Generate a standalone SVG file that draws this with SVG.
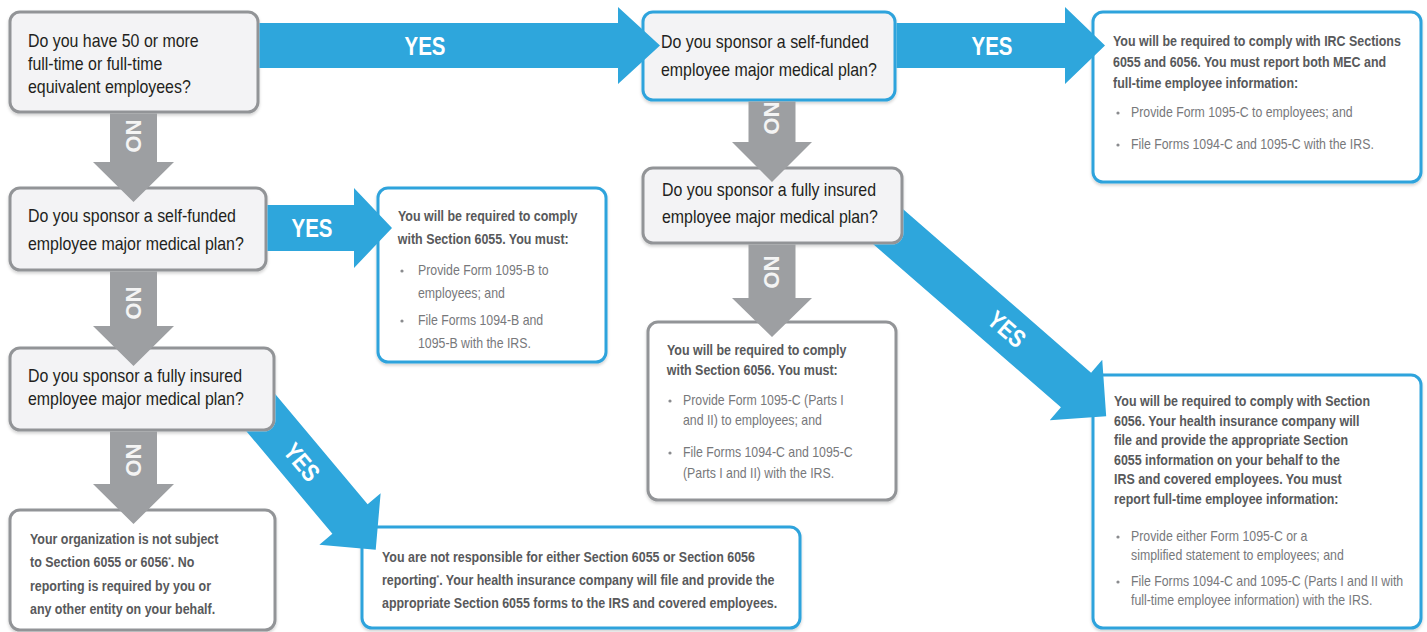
<svg xmlns="http://www.w3.org/2000/svg" width="1427" height="632" viewBox="0 0 1427 632">
  <defs>
    <style>
      .box { stroke-width: 3; }
      .gray { stroke: #929497; }
      .blue { stroke: #2ea3dc; }
      .ask { fill: #f3f3f5; }
      .ans { fill: #ffffff; }
      /* condensed look: squeeze each line horizontally from its own left edge */
      .qt, .bt, .lt { transform-box: fill-box; transform-origin: 0 50%; }
      .qt { font-family: 'Liberation Sans', Arial, sans-serif; font-size: 17.5px; fill: #231f20; transform: scaleX(0.91); }
      .bt { font-family: 'Liberation Sans', Arial, sans-serif; font-size: 15px; font-weight: bold; fill: #58595b; transform: scaleX(0.83); }
      .lt { font-family: 'Liberation Sans', Arial, sans-serif; font-size: 14px; fill: #77787b; transform: scaleX(0.88); }
      .dot { fill: #8a8b8e; }
      .yes-arrow { fill: #2ea6dc; }
      .no-arrow { fill: #9d9fa2; }
      .yes { font-family: 'Liberation Sans', Arial, sans-serif; font-size: 25px; font-weight: bold; fill: #ffffff; text-anchor: middle; }
      .no { font-family: 'Liberation Sans', Arial, sans-serif; font-size: 22px; font-weight: bold; fill: #f4f4f4; text-anchor: middle; }
    </style>
    <filter id="shadow" x="-5%" y="-5%" width="110%" height="115%">
      <feDropShadow dx="0" dy="2" stdDeviation="1.5" flood-color="#000000" flood-opacity="0.18"/>
    </filter>
    <!-- keep the diagonal tails tucked under their source boxes -->
    <clipPath id="clip-q6">
      <path clip-rule="evenodd" d="M0 0H1427V632H0Z M20 346.5H264A11.5 11.5 0 0 1 275.5 358V420A11.5 11.5 0 0 1 264 431.5H20A11.5 11.5 0 0 1 8.5 420V358A11.5 11.5 0 0 1 20 346.5Z"/>
    </clipPath>
    <clipPath id="clip-q8">
      <path clip-rule="evenodd" d="M0 0H1427V632H0Z M653 166.5H892A11.5 11.5 0 0 1 903.5 178V233A11.5 11.5 0 0 1 892 244.5H653A11.5 11.5 0 0 1 641.5 233V178A11.5 11.5 0 0 1 653 166.5Z"/>
    </clipPath>
  </defs>

  <rect width="1427" height="632" fill="#ffffff"/>

  <!-- question: 50 or more employees -->
  <g id="q-size">
    <rect class="box gray ask" x="10" y="12" width="248" height="100" rx="10" filter="url(#shadow)"/>
    <text class="qt" x="28" y="47">Do you have 50 or more</text>
    <text class="qt" x="28" y="70">full-time or full-time</text>
    <text class="qt" x="28" y="93">equivalent employees?</text>
  </g>

  <!-- question: self-funded (large employer) -->
  <g id="q-self-large">
    <rect class="box blue ask" x="643" y="12" width="252" height="88" rx="10" filter="url(#shadow)"/>
    <text class="qt" x="661" y="48">Do you sponsor a self-funded</text>
    <text class="qt" x="661" y="76">employee major medical plan?</text>
  </g>

  <!-- result: 6055 and 6056 -->
  <g id="r-both">
    <rect class="box blue ans" x="1093" y="12" width="328" height="170" rx="10" filter="url(#shadow)"/>
    <text class="bt" x="1113" y="46">You will be required to comply with IRC Sections</text>
    <text class="bt" x="1113" y="67">6055 and 6056. You must report both MEC and</text>
    <text class="bt" x="1113" y="88">full-time employee information:</text>
    <circle class="dot" cx="1118" cy="113" r="1.6"/>
    <text class="lt" x="1131" y="117">Provide Form 1095-C to employees; and</text>
    <circle class="dot" cx="1118" cy="145" r="1.6"/>
    <text class="lt" x="1131" y="149">File Forms 1094-C and 1095-C with the IRS.</text>
  </g>

  <!-- question: self-funded (small employer) -->
  <g id="q-self-small">
    <rect class="box gray ask" x="10" y="188" width="256" height="82" rx="10" filter="url(#shadow)"/>
    <text class="qt" x="28" y="222">Do you sponsor a self-funded</text>
    <text class="qt" x="28" y="250">employee major medical plan?</text>
  </g>

  <!-- result: 6055 only -->
  <g id="r-6055">
    <rect class="box blue ans" x="378" y="188" width="228" height="174" rx="10" filter="url(#shadow)"/>
    <text class="bt" x="398" y="221">You will be required to comply</text>
    <text class="bt" x="398" y="244">with Section 6055. You must:</text>
    <circle class="dot" cx="402" cy="271" r="1.6"/>
    <text class="lt" x="418" y="275">Provide Form 1095-B to</text>
    <text class="lt" x="418" y="298">employees; and</text>
    <circle class="dot" cx="402" cy="321" r="1.6"/>
    <text class="lt" x="418" y="325">File Forms 1094-B and</text>
    <text class="lt" x="418" y="348">1095-B with the IRS.</text>
  </g>

  <!-- question: fully insured (small employer) -->
  <g id="q-insured-small">
    <rect class="box gray ask" x="10" y="348" width="264" height="82" rx="10" filter="url(#shadow)"/>
    <text class="qt" x="28" y="382">Do you sponsor a fully insured</text>
    <text class="qt" x="28" y="405">employee major medical plan?</text>
  </g>

  <!-- result: not subject -->
  <g id="r-none">
    <rect class="box gray ans" x="10" y="510" width="265" height="120" rx="10" filter="url(#shadow)"/>
    <text class="bt" x="30" y="544">Your organization is not subject</text>
    <text class="bt" x="30" y="567">to Section 6055 or 6056<tspan dy="-5" font-size="8">*</tspan><tspan dy="5">. No</tspan></text>
    <text class="bt" x="30" y="591">reporting is required by you or</text>
    <text class="bt" x="30" y="614">any other entity on your behalf.</text>
  </g>

  <!-- result: insurer reports -->
  <g id="r-insurer">
    <rect class="box blue ans" x="362" y="527" width="438" height="101" rx="10" filter="url(#shadow)"/>
    <text class="bt" x="382" y="562">You are not responsible for either Section 6055 or Section 6056</text>
    <text class="bt" x="382" y="585">reporting<tspan dy="-5" font-size="8">*</tspan><tspan dy="5">. Your health insurance company will file and provide the</tspan></text>
    <text class="bt" x="382" y="608">appropriate Section 6055 forms to the IRS and covered employees.</text>
  </g>

  <!-- question: fully insured (large employer) -->
  <g id="q-insured-large">
    <rect class="box gray ask" x="643" y="168" width="259" height="75" rx="10" filter="url(#shadow)"/>
    <text class="qt" x="662" y="196">Do you sponsor a fully insured</text>
    <text class="qt" x="662" y="223">employee major medical plan?</text>
  </g>

  <!-- result: 6056 only -->
  <g id="r-6056">
    <rect class="box gray ans" x="648" y="322" width="248" height="178" rx="10" filter="url(#shadow)"/>
    <text class="bt" x="667" y="355">You will be required to comply</text>
    <text class="bt" x="667" y="375">with Section 6056. You must:</text>
    <circle class="dot" cx="670" cy="401" r="1.6"/>
    <text class="lt" x="683" y="405">Provide Form 1095-C (Parts I</text>
    <text class="lt" x="683" y="425">and II) to employees; and</text>
    <circle class="dot" cx="670" cy="453" r="1.6"/>
    <text class="lt" x="683" y="457">File Forms 1094-C and 1095-C</text>
    <text class="lt" x="683" y="478">(Parts I and II) with the IRS.</text>
  </g>

  <!-- result: 6056 with insurer handling 6055 -->
  <g id="r-6056-insured">
    <rect class="box blue ans" x="1093" y="375" width="328" height="253" rx="10" filter="url(#shadow)"/>
    <text class="bt" x="1114" y="406">You will be required to comply with Section</text>
    <text class="bt" x="1114" y="426">6056. Your health insurance company will</text>
    <text class="bt" x="1114" y="445">file and provide the appropriate Section</text>
    <text class="bt" x="1114" y="465">6055 information on your behalf to the</text>
    <text class="bt" x="1114" y="484">IRS and covered employees. You must</text>
    <text class="bt" x="1114" y="504">report full-time employee information:</text>
    <circle class="dot" cx="1118" cy="537" r="1.6"/>
    <text class="lt" x="1131" y="541">Provide either Form 1095-C or a</text>
    <text class="lt" x="1131" y="560">simplified statement to employees; and</text>
    <circle class="dot" cx="1118" cy="582" r="1.6"/>
    <text class="lt" x="1131" y="586">File Forms 1094-C and 1095-C (Parts I and II with</text>
    <text class="lt" x="1131" y="605">full-time employee information) with the IRS.</text>
  </g>

  <!-- connectors -->
  <g id="connectors">
    <!-- YES branches -->
    <path class="yes-arrow" d="M259.5 23H618V7L660 45.5L618 84V68H259.5Z"/>
    <text class="yes" transform="translate(425 54.5) scale(0.82 1)">YES</text>

    <path class="yes-arrow" d="M896.5 23H1065V7L1105 45.5L1065 84V68H896.5Z"/>
    <text class="yes" transform="translate(992 54.5) scale(0.82 1)">YES</text>

    <path class="yes-arrow" d="M267.5 205H354V188L392 228L354 268V251H267.5Z"/>
    <text class="yes" transform="translate(312 237) scale(0.82 1)">YES</text>

    <g clip-path="url(#clip-q6)">
      <g transform="translate(350 519) rotate(50)">
        <path class="yes-arrow" d="M-200 -23H0V-40L40 0L0 40V23H-200Z"/>
      </g>
    </g>
    <text class="yes" transform="translate(302 462) rotate(50) scale(0.82 1)" x="0" y="9">YES</text>

    <g clip-path="url(#clip-q8)">
      <g transform="translate(1076 390) rotate(41)">
        <path class="yes-arrow" d="M-260 -23H0V-40L40 0L0 40V23H-260Z"/>
      </g>
    </g>
    <text class="yes" transform="translate(1007 329) rotate(41) scale(0.82 1)" x="0" y="9">YES</text>

    <!-- NO branches -->
    <path class="no-arrow" d="M110 113.5V162H93L133.5 202L174 162H157V113.5Z"/>
    <text class="no" transform="translate(133.5 136) rotate(90)" x="0" y="8">NO</text>

    <path class="no-arrow" d="M110 271.5V326H93L133.5 366L174 326H157V271.5Z"/>
    <text class="no" transform="translate(133.5 303) rotate(90)" x="0" y="8">NO</text>

    <path class="no-arrow" d="M110 431.5V484H93L133.5 524L174 484H157V431.5Z"/>
    <text class="no" transform="translate(133.5 460) rotate(90)" x="0" y="8">NO</text>

    <path class="no-arrow" d="M748.5 101.5V142H732L772 182L812 142H795.5V101.5Z"/>
    <text class="no" transform="translate(772 118) rotate(90)" x="0" y="8">NO</text>

    <path class="no-arrow" d="M748.5 244.5V298H732L772 337L812 298H795.5V244.5Z"/>
    <text class="no" transform="translate(772 272) rotate(90)" x="0" y="8">NO</text>
  </g>
</svg>
